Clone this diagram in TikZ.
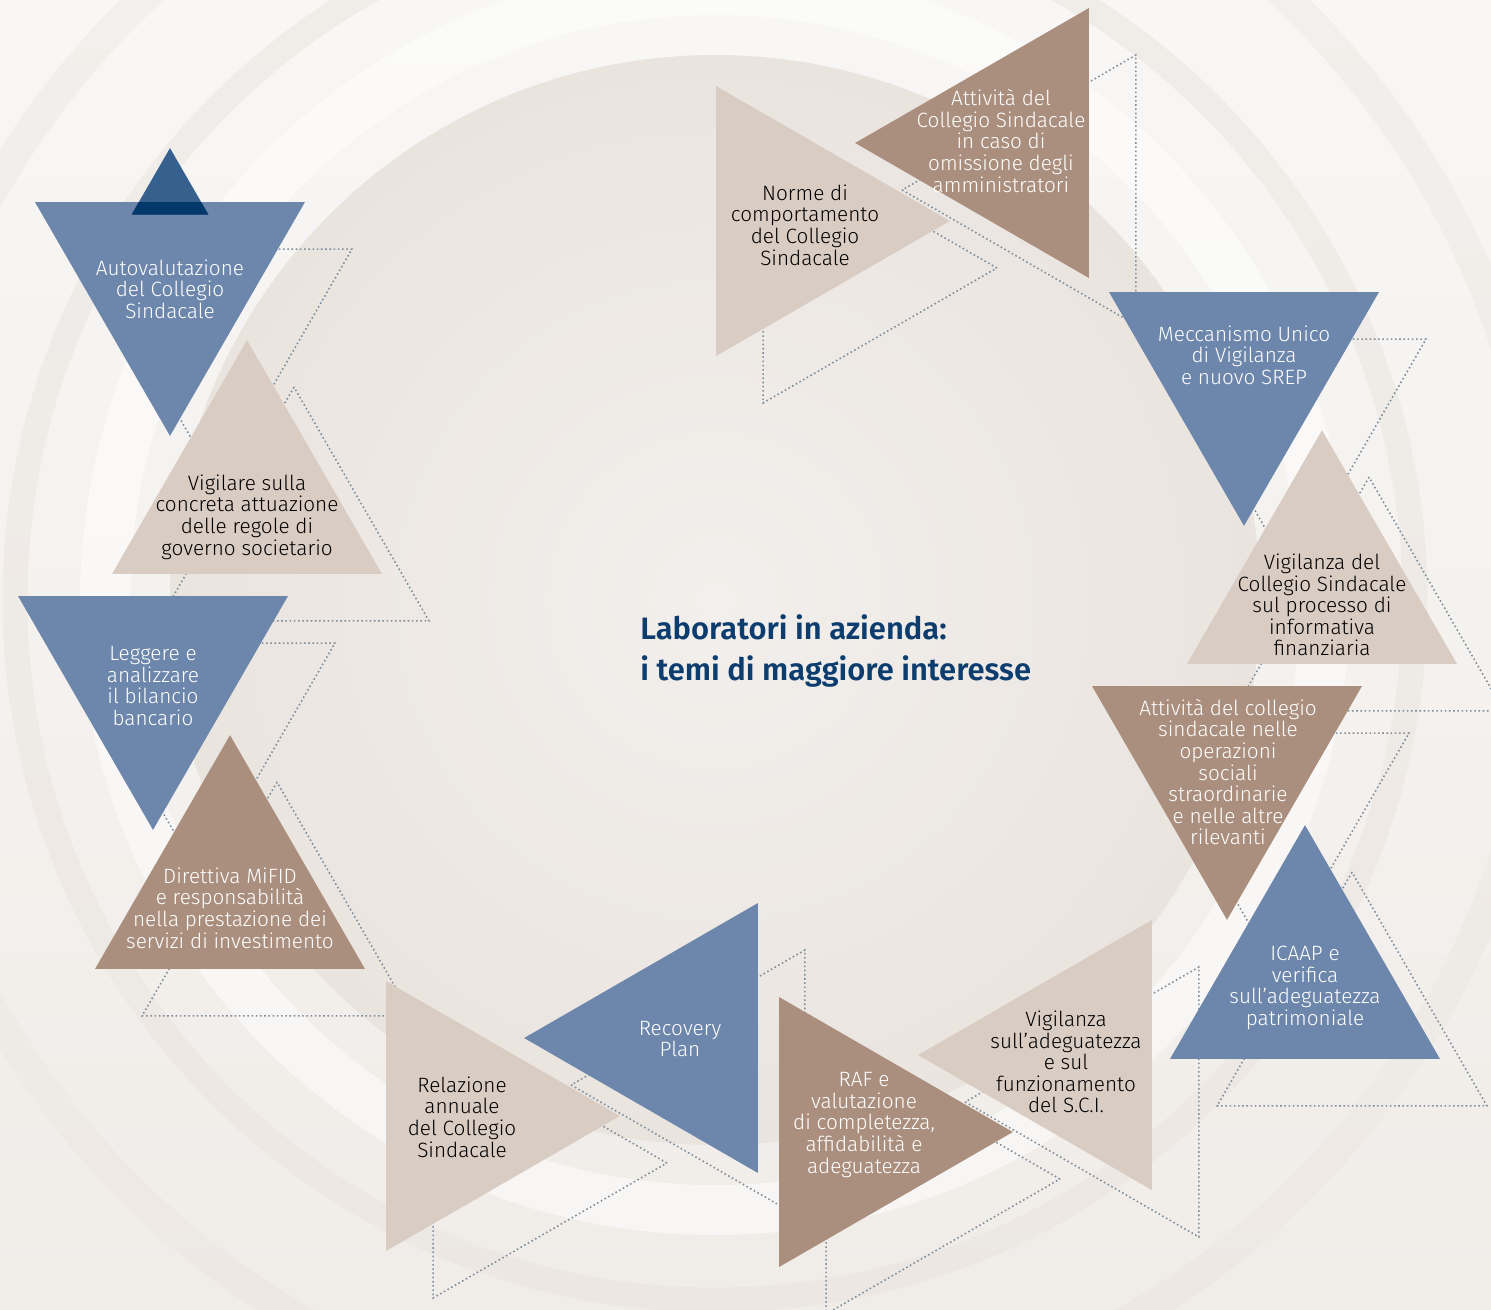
\documentclass[tikz,border=0pt]{standalone}
\usepackage{fontspec}
\setmainfont{Fira Sans}[UprightFont = * Light, BoldFont = * SemiBold]
\usetikzlibrary{calc, shapes.geometric}
\definecolor{triblue}{HTML}{6D86AB}
\definecolor{tribrown}{HTML}{AB8F7E}
\definecolor{trilight}{HTML}{D9CCC3}
\definecolor{markblue}{HTML}{36618F}
\definecolor{marknavy}{HTML}{03386A}
\definecolor{titleblue}{HTML}{0D3D6E}
\definecolor{ghostgrey}{HTML}{7D8E9C}
\definecolor{paper}{HTML}{F8F7F5}
\definecolor{paperdark}{HTML}{F0ECE8}
\definecolor{disc}{HTML}{EAE4DF}
\definecolor{discin}{HTML}{F2EFEC}
\newcommand{\capfont}{\fontsize{11.8}{12.3}\selectfont}

\begin{document}
\begin{tikzpicture}[x = 0.02cm, y = -0.02cm]

\tikzset{
tri/.style = {regular polygon, regular polygon sides = 3, minimum size = 6.236cm,
	inner sep = 0pt, outer sep = 0pt},
bluetri/.style = {tri, fill = triblue},
browntri/.style = {tri, fill = tribrown},
lighttri/.style = {tri, fill = trilight},
ghost/.style = {tri, draw = ghostgrey, line width = 0.9pt,
	dash pattern = on 0.9pt off 1.5pt},
caption/.style = {align = center, text = white, font = \capfont, inner sep = 0pt},
darkcaption/.style = {caption, text = black},
}

\useasboundingbox (0, 0) rectangle (1491, 1309);

%% Background
\begin{scope}
\clip (0, 0) rectangle (1491, 1309);
\shade [top color = paper, bottom color = paperdark] (0, 0) rectangle (1491, 1309);
\draw [disc, opacity = 0.4, line width = 0.6cm] (715, 600) circle (830);
\draw [disc, opacity = 0.5, line width = 0.5cm] (715, 600) circle (700);
\draw [white, opacity = 0.5, line width = 1cm] (715, 600) circle (610);
\shade [inner color = discin, outer color = disc] (715, 600) circle (545);
\end{scope}

%% Centres
\coordinate (cAuto) at (170, 280);
\coordinate (cGov) at (247, 496);
\coordinate (cBil) at (153, 674);
\coordinate (cMif) at (230, 891);
\coordinate (cRel) at (464, 1116);
\coordinate (cRec) at (680, 1038);
\coordinate (cRaf) at (857, 1132);
\coordinate (cSci) at (1074, 1055);
\coordinate (cIcaap) at (1305, 981);
\coordinate (cOper) at (1227, 764);
\coordinate (cInfo) at (1322, 586);
\coordinate (cSrep) at (1244, 370);
\coordinate (cOmis) at (1011, 143);
\coordinate (cNorme) at (794, 221);

%% Dotted shadows
\node [ghost, rotate = 180] (gAuto) at ($(cAuto) + (47, 47)$) {};
\node [ghost] (gGov) at ($(cGov) + (47, 47)$) {};
\node [ghost, rotate = 180] (gBil) at ($(cBil) + (47, 47)$) {};
\node [ghost] (gMif) at ($(cMif) + (47, 47)$) {};
\node [ghost, rotate = -90] (gRel) at ($(cRel) + (47, 47)$) {};
\node [ghost, rotate = 90] (gRec) at ($(cRec) + (47, 47)$) {};
\node [ghost, rotate = -90] (gRaf) at ($(cRaf) + (47, 47)$) {};
\node [ghost, rotate = 90] (gSci) at ($(cSci) + (47, 47)$) {};
\node [ghost] (gIcaap) at ($(cIcaap) + (47, 47)$) {};
\node [ghost, rotate = 180] (gOper) at ($(cOper) + (47, 47)$) {};
\node [ghost] (gInfo) at ($(cInfo) + (47, 47)$) {};
\node [ghost, rotate = 180] (gSrep) at ($(cSrep) + (47, 47)$) {};
\node [ghost, rotate = 90] (gOmis) at ($(cOmis) + (47, 47)$) {};
\node [ghost, rotate = -90] (gNorme) at ($(cNorme) + (47, 47)$) {};

%% Triangles
\node [bluetri, rotate = 180] (tAuto) at (cAuto) {};
\node [lighttri] (tGov) at (cGov) {};
\node [bluetri, rotate = 180] (tBil) at (cBil) {};
\node [browntri] (tMif) at (cMif) {};
\node [lighttri, rotate = -90] (tRel) at (cRel) {};
\node [bluetri, rotate = 90] (tRec) at (cRec) {};
\node [browntri, rotate = -90] (tRaf) at (cRaf) {};
\node [lighttri, rotate = 90] (tSci) at (cSci) {};
\node [bluetri] (tIcaap) at (cIcaap) {};
\node [browntri, rotate = 180] (tOper) at (cOper) {};
\node [lighttri] (tInfo) at (cInfo) {};
\node [bluetri, rotate = 180] (tSrep) at (cSrep) {};
\node [browntri, rotate = 90] (tOmis) at (cOmis) {};
\node [lighttri, rotate = -90] (tNorme) at (cNorme) {};

% Small mark on top
\node [tri, minimum size = 1.778cm, fill = markblue] (mark) at (170, 192.5) {};
\begin{scope}
\clip (tAuto.corner 1) -- (tAuto.corner 2) -- (tAuto.corner 3) -- cycle;
\fill [marknavy] (mark.corner 1) -- (mark.corner 2) -- (mark.corner 3) -- cycle;
\end{scope}

%% Texts
\node [caption] (lAuto) at (170, 289) {Autovalutazione\\del Collegio\\Sindacale};
\node [darkcaption] (lGov) at (247, 517) {Vigilare sulla\\concreta attuazione\\delle regole di\\governo societario};
\node [caption] (lBil) at (153, 686) {Leggere e\\analizzare\\il bilancio\\bancario};
\node [caption] (lMif) at (230, 908) {Direttiva MiFID\\e responsabilità\\nella prestazione dei\\servizi di investimento};
\node [darkcaption] (lRel) at (462, 1117) {Relazione\\annuale\\del Collegio\\Sindacale};
\node [caption] (lRec) at (680, 1039) {Recovery\\Plan};
\node [caption] (lRaf) at (864, 1125) {RAF e\\valutazione\\di completezza,\\affidabilità e\\adeguatezza};
\node [darkcaption] (lSci) at (1066, 1062) {Vigilanza\\sull’adeguatezza\\e sul\\funzionamento\\del S.C.I.};
\node [caption] (lIcaap) at (1305, 988) {ICAAP e\\verifica\\sull’adeguatezza\\patrimoniale};
\node [caption] (lOper) at (1228, 772) {Attività del collegio\\sindacale nelle\\operazioni\\sociali\\straordinarie\\e nelle altre\\rilevanti};
\node [darkcaption] (lInfo) at (1322, 605) {Vigilanza del\\Collegio Sindacale\\sul processo di\\informativa\\finanziaria};
\node [caption] (lSrep) at (1244, 355) {Meccanismo Unico\\di Vigilanza\\e nuovo SREP};
\node [caption] (lOmis) at (1001, 141) {Attività del\\Collegio Sindacale\\in caso di\\omissione degli\\amministratori};
\node [darkcaption] (lNorme) at (805, 225) {Norme di\\comportamento\\del Collegio\\Sindacale};

%% Title
\node [anchor = west, align = left, text = titleblue, inner sep = 0pt,
	font = \fontsize{17.6}{23.8}\selectfont\bfseries] (title) at (640, 651)
	{Laboratori in azienda:\\i temi di maggiore interesse};

\end{tikzpicture}
\end{document}
